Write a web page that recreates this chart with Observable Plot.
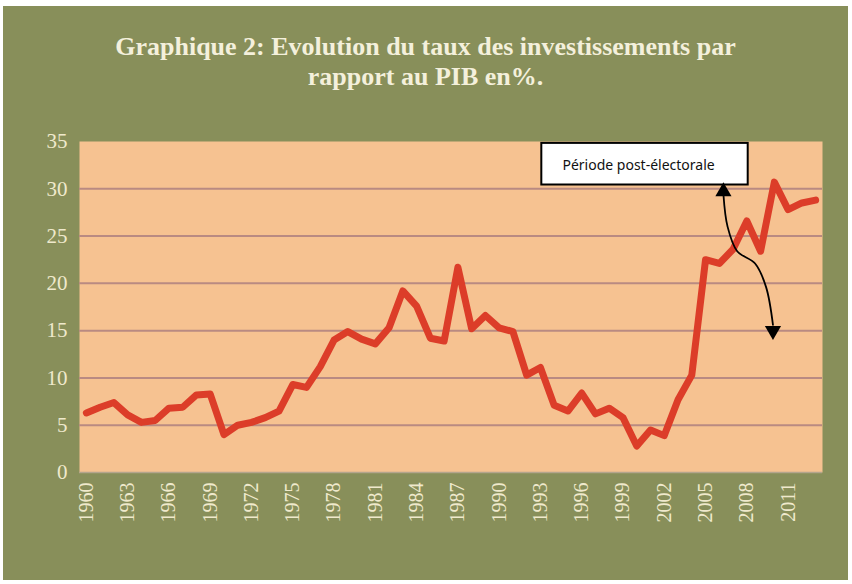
<!DOCTYPE html>
<html>
<head>
<meta charset="utf-8">
<script src="https://cdn.jsdelivr.net/npm/d3@7"></script>
<script src="https://cdn.jsdelivr.net/npm/@observablehq/plot@0.6"></script>
<style>
  html, body { margin: 0; padding: 0; background: #ffffff; }
  #frame { position: absolute; left: 3px; top: 6px; width: 845px; height: 574px; background: #888f5a; overflow: hidden; }
  #title { position: absolute; left: 0; top: 26px; width: 100%; text-align: center; color: #f4f0dc;
           font-family: "Liberation Serif", "DejaVu Serif", serif; font-weight: bold; font-size: 26px; line-height: 30px; }
  #chart { position: absolute; left: 0; top: 94px; }
</style>
</head>
<body>
<div id="frame">
  <div id="title">Graphique 2: Evolution du taux des investissements par<br>rapport au PIB en%.</div>
  <div id="chart"></div>
</div>
<script>
const years = d3.range(1960, 2014);
const rates = [
  6.3, 6.9, 7.4, 6.1, 5.3, 5.5, 6.8, 6.9, 8.2, 8.3,
  4.0, 5.0, 5.3, 5.8, 6.5, 9.3, 9.0, 11.2, 14.0, 14.9,
  14.1, 13.6, 15.3, 19.2, 17.6, 14.2, 13.9, 21.7, 15.2, 16.6,
  15.3, 14.9, 10.3, 11.1, 7.1, 6.5, 8.4, 6.2, 6.8, 5.8,
  2.8, 4.5, 3.9, 7.7, 10.3, 22.5, 22.1, 23.6, 26.6, 23.4,
  30.7, 27.8, 28.5, 28.8
];
const xTicks = d3.range(1960, 2012, 3);
const yTicks = [0, 5, 10, 15, 20, 25, 30, 35];
const gridValues = [5, 10, 15, 20, 25, 30];

// annotation (in data units: year, percent)
const noteLabel = "Période post-électorale";
const noteBox = [{x1: 1993.1, x2: 2008.1, y1: 30.4, y2: 34.8}];
const noteTextPos = [{x: 1994.6, y: 32.5}];
const arrowPath = [
  {x: 2006.3, y: 29.4}, {x: 2006.6, y: 26.0}, {x: 2007.3, y: 23.4},
  {x: 2008.6, y: 22.1}, {x: 2009.4, y: 19.6}, {x: 2009.9, y: 15.6}
];
const arrowHeads = [{x: 2006.3, y: 29.7, rot: 0}, {x: 2009.9, y: 15.0, rot: 180}];

const data = years.map((y, i) => ({year: y, rate: rates[i]}));

const chart = Plot.plot({
  width: 845,
  height: 480,
  marginLeft: 76,
  marginRight: 26,
  marginTop: 41,
  marginBottom: 108,
  style: {background: "transparent", fontFamily: "Liberation Serif, DejaVu Serif, serif", color: "#efe9cc"},
  x: {domain: [1959.5, 2013.5], ticks: xTicks, tickFormat: d => String(d), tickRotate: -90, tickSize: 0, tickPadding: 10, label: null},
  y: {domain: [0, 35], ticks: yTicks, tickSize: 0, tickPadding: 12, label: null},
  marks: [
    Plot.frame({fill: "#f6c291", stroke: null}),
    Plot.ruleY(gridValues, {stroke: "#b98a82", strokeWidth: 2}),
    Plot.ruleY([0], {stroke: "#b4a58c", strokeWidth: 1.5}),
    Plot.axisY({ticks: yTicks, tickSize: 0, tickPadding: 12, fontSize: 21, fill: "#efe9cc"}),
    Plot.axisX({ticks: xTicks, tickFormat: d => String(d), tickRotate: -90, tickSize: 0, tickPadding: 10, fontSize: 20, fill: "#efe9cc"}),
    Plot.line(data, {x: "year", y: "rate", stroke: "#dc3d29", strokeWidth: 7, strokeLinejoin: "round", strokeLinecap: "round"}),
    Plot.rect(noteBox, {x1: "x1", x2: "x2", y1: "y1", y2: "y2", fill: "white", stroke: "black", strokeWidth: 2}),
    Plot.text(noteTextPos, {x: "x", y: "y", text: () => noteLabel, textAnchor: "start", fontFamily: "Noto Sans, Open Sans, sans-serif", fontSize: 14, fill: "#111"}),
    Plot.line(arrowPath, {x: "x", y: "y", curve: "catmull-rom", stroke: "black", strokeWidth: 1.8}),
    Plot.dot(arrowHeads, {x: "x", y: "y", symbol: "triangle", r: 6, fill: "black", stroke: null, rotate: "rot"})
  ]
});
document.getElementById("chart").appendChild(chart);
</script>
</body>
</html>
